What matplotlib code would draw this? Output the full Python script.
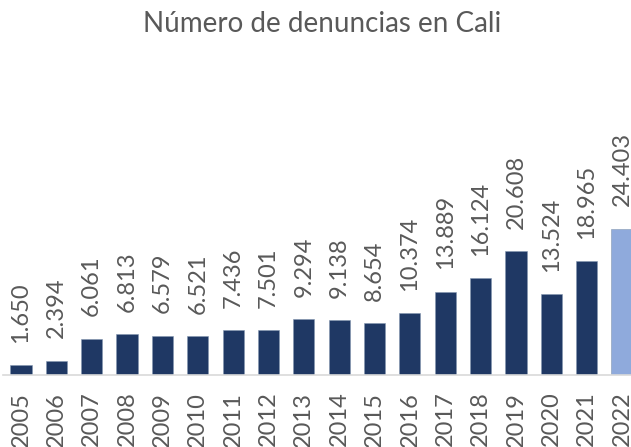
import matplotlib
matplotlib.use("Agg")
import matplotlib.pyplot as plt

years = ["2005", "2006", "2007", "2008", "2009", "2010", "2011", "2012", "2013",
         "2014", "2015", "2016", "2017", "2018", "2019", "2020", "2021", "2022"]
denuncias = [1650, 2394, 6061, 6813, 6579, 6521, 7436, 7501, 9294,
             9138, 8654, 10374, 13889, 16124, 20608, 13524, 18965, 24403]
labels = ["1.650", "2.394", "6.061", "6.813", "6.579", "6.521", "7.436", "7.501", "9.294",
          "9.138", "8.654", "10.374", "13.889", "16.124", "20.608", "13.524", "18.965", "24.403"]

plt.rcParams['font.family'] = ['Lato', 'DejaVu Sans']
W, H = 631, 447
fig = plt.figure(figsize=(W / 100, H / 100), dpi=100)
# axes: x from 3.3px to 639.7px, baseline at 375px, 0.006 px/unit
ymax = 30000
ax = fig.add_axes([3.3 / W, (H - 375) / H, 636.4 / W, ymax * 0.006 / H])

colors = ["#1F3864"] * (len(years) - 1) + ["#8FAADC"]
x = list(range(len(years)))
bars = ax.bar(x, denuncias, width=0.6, color=colors, edgecolor="#8497B0", linewidth=0.4)
ax.set_xlim(-0.5, len(years) - 0.5)
ax.set_ylim(0, ymax)

for xi, v, lab in zip(x, denuncias, labels):
    ax.annotate(lab, (xi, v), xytext=(0, 16), textcoords="offset points",
                rotation=90, ha="center", va="bottom", fontsize=17,
                color="#595959")

ax.set_xticks(x)
ax.set_xticklabels(years, rotation=90, fontsize=17, color="#595959")
ax.tick_params(axis="x", length=0, pad=12)
ax.set_yticks([])
for s in ["top", "right", "left"]:
    ax.spines[s].set_visible(False)
ax.spines["bottom"].set_color("#D9D9D9")
ax.spines["bottom"].set_linewidth(1.2)

fig.text(322 / W, 1 - 24 / H, "Número de denuncias en Cali", ha="center", va="center",
         fontsize=20, color="#595959")

fig.savefig("out.png", dpi=100)
